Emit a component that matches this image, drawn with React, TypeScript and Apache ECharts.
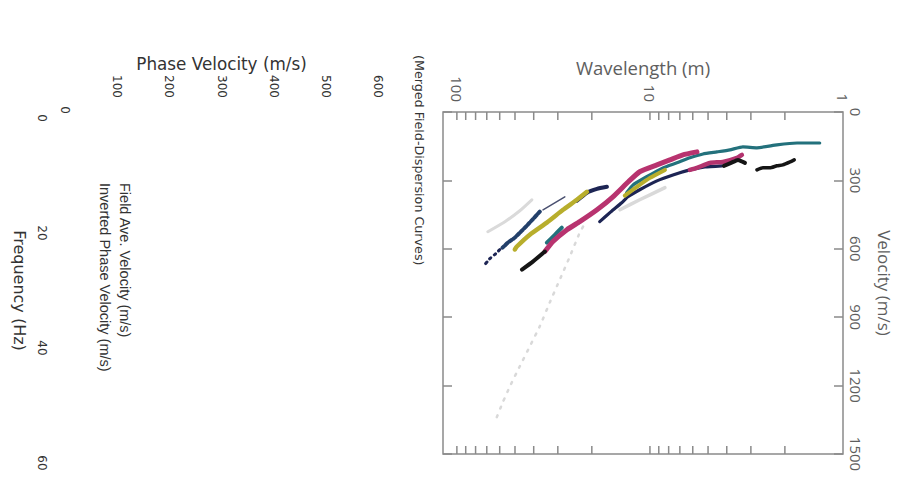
import React, { useEffect, useRef } from 'react';
import * as echarts from 'echarts';

// ---- Scanned dispersion plot (velocity m/s, wavelength m) ----
const tealCurve: [number, number][] = [[136, 1.32], [136, 1.73], [144, 2.2], [157, 2.79], [153, 3.3], [166, 3.85], [175, 4.5], [184, 5.31], [201, 6.21], [223, 7.25], [245, 8.56], [284, 10.4], [319, 12.2], [354, 13.2]];
const tealShort: [number, number][] = [[507, 28.6], [540, 31.2], [573, 34.2]];
const magentaCurve: [number, number][] = [[175, 5.71], [188, 6.75], [210, 7.88], [232, 9.2], [262, 11.3], [305, 12.9], [372, 15.55], [429, 18.8], [481, 23.1], [516, 26.9], [568, 31.8], [612, 35.0]];
const magentaShort: [number, number][] = [[188, 3.34], [201, 3.54], [219, 4.19], [223, 4.89], [245, 5.71], [254, 6.21]];
const blackRight: [number, number][] = [[210, 1.79], [219, 1.88], [232, 2.05], [236, 2.2], [245, 2.39], [245, 2.6], [254, 2.79]];
const blackShort: [number, number][] = [[223, 3.22], [210, 3.5], [223, 3.8], [236, 4.14]];
const navyCurve: [number, number][] = [[236, 4.24], [241, 5.19], [254, 6.21], [276, 7.6], [302, 9.2], [341, 11.3], [372, 13.0], [398, 14.0], [437, 15.9], [481, 18.2]];
const oliveUpper: [number, number][] = [[254, 8.36], [289, 10.0], [324, 11.5], [367, 13.5]];
const oliveCurve: [number, number][] = [[350, 21.2], [385, 23.9], [429, 28.2], [485, 34.2], [538, 41.9], [590, 48.9], [603, 50.1]];
const navyTop: [number, number][] = [[328, 16.7], [337, 18.8], [354, 21.2], [389, 23.9]];
const navyThin: [number, number][] = [[372, 27.6], [429, 35.8]];
const navyHatched: [number, number][] = [[437, 37.2], [494, 42.9], [551, 50.1], [573, 54.4], [595, 58.0]];
const navyDotted: [number, number][] = [[603, 59.9], [625, 63.6], [643, 67.5], [669, 71.6]];
const blackLower: [number, number][] = [[612, 35.0], [656, 40.4], [691, 46.0]];
const grayUpper: [number, number][] = [[332, 8.36], [385, 11.3], [429, 14.3]];
const grayLower: [number, number][] = [[385, 40.9], [433, 47.2], [481, 56.4], [525, 69.1]];
const grayDotted: [number, number][] = [[503, 22.2], [529, 23.1], [634, 26.0], [735, 29.3], [835, 33.0], [940, 37.2], [1028, 41.9], [1115, 47.2], [1203, 53.1], [1273, 57.8], [1360, 63.6]];

const wavelengthMinorTicks = [2, 3, 4, 5, 6, 7, 8, 9, 10, 20, 30, 40, 50, 60, 70, 80, 90, 100];

// ---- ECharts frequency chart ----
const fieldAveVelocity: [number, number][] = [];
const invertedPhaseVelocity: [number, number][] = [];

const SCAN_TEXT = '#5e5e5e';
const SCAN_LINE = '#8a8a8a';
const SCAN_FONT = 'Open Sans';
const EC_FONT = 'DejaVu Sans';

function curve(data: [number, number][], color: string, width: number, extra: any = {}) {
  return {
    type: 'line',
    xAxisIndex: 0,
    yAxisIndex: 0,
    data,
    showSymbol: false,
    symbol: 'none',
    smooth: 0.15,
    silent: true,
    lineStyle: { color, width, cap: 'round', join: 'round', ...(extra.lineStyle || {}) },
    z: extra.z ?? 3,
  };
}

export default function App() {
  const ref = useRef<HTMLDivElement>(null);
  useEffect(() => {
    const chart = echarts.init(ref.current!, null, { renderer: 'svg' });
    const option: any = {
      animation: false,
      backgroundColor: '#ffffff',
      title: {
        text: '(Merged Field-Dispersion Curves)',
        left: 55,
        top: 472,
        padding: 0,
        textStyle: { fontFamily: EC_FONT, fontSize: 12.7, fontWeight: 'normal', color: '#333' },
      },
      legend: {
        orient: 'vertical',
        left: 153,
        top: 766,
        padding: 0,
        itemGap: 5,
        itemHeight: 14,
        itemWidth: 25,
        icon: 'none',
        data: ['Field Ave. Velocity (m/s)', 'Inverted Phase Velocity (m/s)'],
        textStyle: { fontFamily: 'Liberation Sans', fontSize: 14.5, color: '#333' },
      },
      grid: [
        { left: 112, right: 33, top: 55, bottom: 443, show: true, borderColor: SCAN_LINE, borderWidth: 1.5, containLabel: false },
        { left: 118, right: 24, top: 520, bottom: 65, containLabel: false },
      ],
      xAxis: [
        {
          gridIndex: 0, type: 'value', position: 'top', min: 0, max: 1500, interval: 300,
          name: 'Velocity (m/s)', nameLocation: 'middle', nameGap: 33, nameMoveOverlap: false,
          nameTextStyle: { fontFamily: SCAN_FONT, fontSize: 17, color: SCAN_TEXT },
          axisLine: { show: false },
          axisTick: { show: true, inside: true, length: 9, lineStyle: { color: SCAN_LINE, width: 1.5 } },
          axisLabel: { margin: 5, fontFamily: SCAN_FONT, fontSize: 15, color: SCAN_TEXT, formatter: (v: number) => String(v) },
          splitLine: { show: false },
        },
        {
          gridIndex: 0, type: 'value', position: 'bottom', min: 0, max: 1500, interval: 300,
          axisLine: { show: false },
          axisTick: { show: true, inside: true, length: 9, lineStyle: { color: SCAN_LINE, width: 1.5 } },
          axisLabel: { show: false },
          splitLine: { show: false },
        },
        {
          gridIndex: 1, type: 'value', position: 'bottom', min: 0, max: 60, interval: 20,
          name: 'Frequency (Hz)', nameLocation: 'middle', nameGap: 38, nameMoveOverlap: false,
          nameTextStyle: { fontFamily: EC_FONT, fontSize: 16, color: '#333' },
          axisLine: { show: false },
          axisTick: { show: false },
          axisLabel: { margin: 17, fontFamily: EC_FONT, fontSize: 12, color: '#333' },
          splitLine: { show: false },
        },
      ],
      yAxis: [
        {
          gridIndex: 0, type: 'log', logBase: 10, inverse: true, min: 1, max: 118, position: 'left',
          name: 'Wavelength (m)', nameLocation: 'middle', nameGap: 35, nameMoveOverlap: false,
          nameTextStyle: { fontFamily: SCAN_FONT, fontSize: 18.5, color: SCAN_TEXT },
          axisLine: { show: false },
          axisTick: { show: false },
          axisLabel: { margin: 10, align: 'right', showMaxLabel: false, fontFamily: SCAN_FONT, fontSize: 15, color: SCAN_TEXT },
          splitLine: { show: false },
        },
        {
          gridIndex: 1, type: 'value', position: 'left', min: 0, max: 600, interval: 100,
          name: 'Phase Velocity (m/s)', nameLocation: 'middle', nameGap: 46, nameMoveOverlap: false,
          nameTextStyle: { fontFamily: EC_FONT, fontSize: 16.8, color: '#333' },
          axisLine: { show: false },
          axisTick: { show: false },
          axisLabel: { margin: 20, showMinLabel: false, fontFamily: EC_FONT, fontSize: 12, color: '#333' },
          splitLine: { show: false },
        },
        {
          gridIndex: 1, type: 'value', position: 'left', min: 0, max: 600, interval: 100,
          axisLine: { show: false },
          axisTick: { show: false },
          axisLabel: { margin: 4, fontFamily: EC_FONT, fontSize: 12, color: '#333', formatter: (v: number) => (v === 0 ? '0' : '') },
          splitLine: { show: false },
        },
      ],
      series: [
        {
          type: 'custom',
          xAxisIndex: 0,
          yAxisIndex: 0,
          silent: true,
          z: 5,
          data: wavelengthMinorTicks.map((v) => [0, v]),
          renderItem: (params: any, api: any) => {
            const y = api.coord([0, api.value(1)])[1];
            const cs = params.coordSys;
            const style = { stroke: SCAN_LINE, lineWidth: 1.5 };
            return {
              type: 'group',
              children: [
                { type: 'line', shape: { x1: cs.x, y1: y, x2: cs.x + 8, y2: y }, style },
                { type: 'line', shape: { x1: cs.x + cs.width - 8, y1: y, x2: cs.x + cs.width, y2: y }, style },
              ],
            };
          },
        },
        curve(grayDotted, '#d9d9d9', 2.5, { lineStyle: { type: [2, 7] }, z: 2 }),
        curve(grayUpper, '#d9d9d9', 3.5, { z: 2 }),
        curve(grayLower, '#dadada', 3, { z: 2 }),
        curve(tealCurve, '#23717c', 3.2),
        curve(tealShort, '#23717c', 4),
        curve(navyCurve, '#1d2554', 3.2),
        curve(navyTop, '#1d2554', 4),
        curve(navyThin, '#4a5070', 1.5),
        curve(navyHatched, '#23406a', 4, { lineStyle: { type: [3, 2] } }),
        curve(navyDotted, '#1d2554', 3, { lineStyle: { type: [2, 4] } }),
        curve(oliveUpper, '#b8ae2c', 4, { z: 4 }),
        curve(oliveCurve, '#b8ae2c', 4.5, { z: 4 }),
        curve(magentaShort, '#b3336e', 4.5, { z: 4 }),
        curve(magentaCurve, '#b8336f', 5, { z: 4 }),
        curve(blackRight, '#151515', 3.5, { z: 4 }),
        curve(blackShort, '#151515', 4, { z: 4 }),
        curve(blackLower, '#151515', 4, { z: 4 }),
        {
          name: 'Field Ave. Velocity (m/s)', type: 'line', xAxisIndex: 2, yAxisIndex: 1,
          data: fieldAveVelocity, showSymbol: false, lineStyle: { color: '#c23531' },
        },
        {
          name: 'Inverted Phase Velocity (m/s)', type: 'line', xAxisIndex: 2, yAxisIndex: 1,
          data: invertedPhaseVelocity, showSymbol: false, lineStyle: { color: '#2f4554' },
        },
      ],
    };
    chart.setOption(option);
    return () => chart.dispose();
  }, []);
  return (
    <div style={{ position: 'fixed', left: 0, top: 0, width: 898, height: 487, overflow: 'hidden', background: '#fff' }}>
      <div
        ref={ref}
        style={{
          position: 'absolute', left: 0, top: 0, width: 487, height: 898,
          transformOrigin: '0 0', transform: 'translate(898px, 0px) rotate(90deg)',
        }}
      />
    </div>
  );
}
